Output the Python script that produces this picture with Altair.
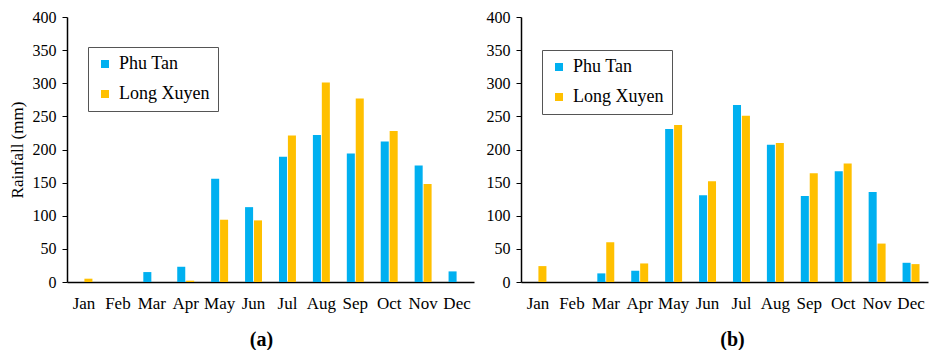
import altair as alt
import pandas as pd

# Monthly rainfall (mm) at the two stations, two periods
months = ["Jan", "Feb", "Mar", "Apr", "May", "Jun",
          "Jul", "Aug", "Sep", "Oct", "Nov", "Dec"]
stations = ["Phu Tan", "Long Xuyen"]
station_colors = ["#00B0F0", "#FFC000"]

phu_tan_a = [0, 0, 15, 23, 156, 113, 189, 222, 194, 212, 176, 16]
long_xuyen_a = [5, 0, 0, 2, 94, 93, 221, 301, 277, 228, 148, 0]

phu_tan_b = [0, 0, 13, 17, 231, 131, 267, 207, 130, 167, 136, 29]
long_xuyen_b = [24, 0, 60, 28, 237, 152, 251, 210, 164, 179, 58, 27]

y_ticks = list(range(0, 401, 50))
FONT = "Liberation Serif"


def panel(pt, lx, caption, caption_dx, y_title, legend_y):
    df = pd.DataFrame({
        "Month": months * 2,
        "Station": [stations[0]] * 12 + [stations[1]] * 12,
        "Rainfall": pt + lx,
    })
    axis_kw = dict(values=y_ticks, grid=False, tickSize=5, tickColor="black",
                   labelPadding=6, labelFontSize=16, labelFont=FONT,
                   labelColor="black", domainColor="black", domainWidth=1.5)
    if y_title:
        axis_kw.update(title=y_title, titleFont=FONT, titleFontSize=17,
                       titleFontWeight="normal", titleColor="black", titlePadding=6)
    else:
        axis_kw.update(title=None)

    return alt.Chart(df).mark_bar().encode(
        x=alt.X("Month:N", sort=months,
                scale=alt.Scale(paddingInner=0.5, paddingOuter=0.25),
                axis=alt.Axis(title=None, ticks=False, labelAngle=0,
                              labelPadding=13, labelFontSize=17, labelFont=FONT,
                              labelColor="black", domainColor="black",
                              domainWidth=1.5)),
        xOffset=alt.XOffset("Station:N", sort=stations,
                            scale=alt.Scale(paddingInner=0.1)),
        y=alt.Y("Rainfall:Q", scale=alt.Scale(domain=[0, 400], nice=False),
                axis=alt.Axis(**axis_kw)),
        color=alt.Color("Station:N", sort=stations,
                        scale=alt.Scale(domain=stations, range=station_colors),
                        legend=alt.Legend(orient="none", legendX=21, legendY=legend_y,
                                          title=None, symbolType="square",
                                          symbolSize=64, symbolStrokeWidth=0,
                                          labelFont=FONT, labelFontSize=18,
                                          labelColor="black", labelOffset=5,
                                          rowPadding=12, padding=8,
                                          strokeColor="#555555",
                                          fillColor="white")),
    ).properties(
        width=407, height=265,
        title=alt.TitleParams(caption, orient="bottom", anchor="middle",
                              frame="group", font=FONT, fontSize=20,
                              fontWeight="bold", color="black", offset=19,
                              dx=caption_dx),
    )


chart = alt.hconcat(
    panel(phu_tan_a, long_xuyen_a, "(a)", -9, "Rainfall (mm)", 30),
    panel(phu_tan_b, long_xuyen_b, "(b)", 8, None, 33),
    spacing=12,
).resolve_legend(color="independent").properties(
    padding={"left": 8, "top": 9, "right": 5, "bottom": 0},
).configure_view(stroke=None)

chart.save("out.html", embed_options={"renderer": "svg", "actions": False})
